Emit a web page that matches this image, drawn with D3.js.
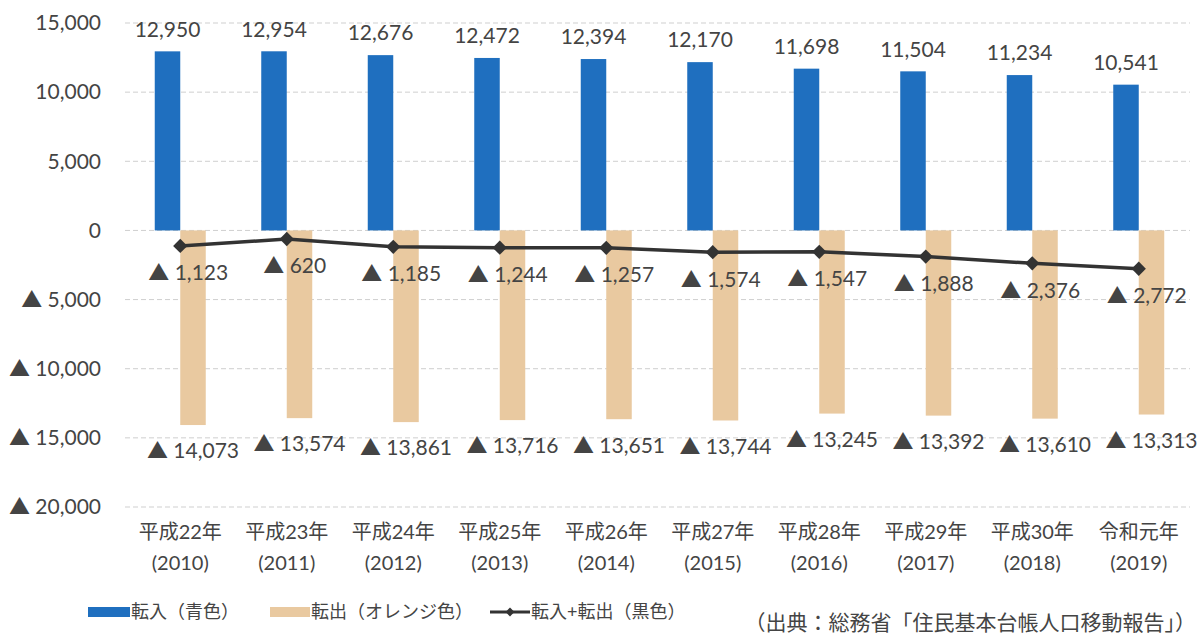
<!DOCTYPE html>
<html>
<head>
<meta charset="utf-8">
<script src="https://cdn.jsdelivr.net/npm/d3@7"></script>
<style>
  body { margin: 0; background: #fff; }
  svg text { font-family: Lato, "Noto Sans CJK JP", sans-serif; fill: #444; }
</style>
</head>
<body>
<div id="chart"></div>
<script>
// data
const eras = ['平成22年','平成23年','平成24年','平成25年','平成26年','平成27年','平成28年','平成29年','平成30年','令和元年']
const years = ['2010','2011','2012','2013','2014','2015','2016','2017','2018','2019']
const tenyu = [12950,12954,12676,12472,12394,12170,11698,11504,11234,10541]
const tenshutsu = [14073,13574,13861,13716,13651,13744,13245,13392,13610,13313]
const net = [-1123,-620,-1185,-1244,-1257,-1574,-1547,-1888,-2376,-2772]
const yTicks = [15000,10000,5000,0,-5000,-10000,-15000,-20000]

const colors = { in: '#1f6fbf', out: '#e9c9a0', line: '#333333' }

const width = 1200, height = 635
const svg = d3.select('#chart').append('svg')
    .attr('width', width)
    .attr('height', height)

// scales
const x = d3.scaleBand().domain(years).range([127, 1192])
const y = d3.scaleLinear().domain([-20000, 15000]).range([507, 23])
const fmt = d3.format(',')
const fmtSigned = v => v < 0 ? '▲ ' + fmt(-v) : fmt(v)
const cx = d => x(d) + x.bandwidth() / 2
const barW = 25.5

// grid
svg.append('g').selectAll('line')
    .data(yTicks)
    .join('line')
    .attr('x1', 125).attr('x2', 1190)
    .attr('y1', d => y(d)).attr('y2', d => y(d))
    .attr('stroke', '#cfcfcf')
    .attr('stroke-width', 1)
    .attr('stroke-dasharray', '5,3')

// y axis labels
svg.append('g').selectAll('text')
    .data(yTicks)
    .join('text')
    .attr('x', 101)
    .attr('y', d => y(d))
    .attr('dy', '0.35em')
    .attr('text-anchor', 'end')
    .style('font-size', '21px')
    .text(fmtSigned)

// bars
svg.append('g').selectAll('rect')
    .data(tenyu)
    .join('rect')
    .attr('x', (d, i) => cx(years[i]) - barW)
    .attr('y', d => y(d))
    .attr('width', barW)
    .attr('height', d => y(0) - y(d))
    .attr('fill', colors.in)

svg.append('g').selectAll('rect')
    .data(tenshutsu)
    .join('rect')
    .attr('x', (d, i) => cx(years[i]))
    .attr('y', y(0))
    .attr('width', barW)
    .attr('height', d => y(-d) - y(0))
    .attr('fill', colors.out)

// net line
const line = d3.line()
    .x((d, i) => cx(years[i]))
    .y(d => y(d))

svg.append('path')
    .datum(net)
    .attr('d', line)
    .attr('fill', 'none')
    .attr('stroke', colors.line)
    .attr('stroke-width', 3.5)

svg.append('g').selectAll('path')
    .data(net)
    .join('path')
    .attr('d', d3.symbol(d3.symbolDiamond2, 130))
    .attr('transform', (d, i) => `translate(${cx(years[i])},${y(d)})`)
    .attr('fill', colors.line)

// value labels
svg.append('g').selectAll('text')
    .data(tenyu)
    .join('text')
    .attr('x', (d, i) => cx(years[i]) - barW / 2)
    .attr('y', d => y(d) - 22)
    .attr('dy', '0.35em')
    .attr('text-anchor', 'middle')
    .style('font-size', '21px')
    .text(fmt)

svg.append('g').selectAll('text')
    .data(tenshutsu)
    .join('text')
    .attr('x', (d, i) => cx(years[i]) + barW / 2)
    .attr('y', d => y(-d) + 26)
    .attr('dy', '0.35em')
    .attr('text-anchor', 'middle')
    .style('font-size', '21px')
    .text(d => fmtSigned(-d))

svg.append('g').selectAll('text')
    .data(net)
    .join('text')
    .attr('x', (d, i) => cx(years[i]) + 8)
    .attr('y', d => y(d) + 27)
    .attr('dy', '0.35em')
    .attr('text-anchor', 'middle')
    .style('font-size', '21px')
    .text(fmtSigned)

// category labels
const cats = svg.append('g').selectAll('g')
    .data(years)
    .join('g')
    .attr('transform', d => `translate(${cx(d)},0)`)

cats.append('text')
    .attr('y', 532)
    .attr('dy', '0.35em')
    .attr('text-anchor', 'middle')
    .style('font-size', '20px')
    .text((d, i) => eras[i])

cats.append('text')
    .attr('y', 563)
    .attr('dy', '0.35em')
    .attr('text-anchor', 'middle')
    .style('font-size', '20px')
    .text(d => `(${d})`)

// legend
const legend = svg.append('g').attr('transform', 'translate(0,612)')

legend.append('rect').attr('x', 88).attr('y', -5).attr('width', 42).attr('height', 10).attr('fill', colors.in)
legend.append('text').attr('x', 131).attr('dy', '0.35em').style('font-size', '18px').text('転入（青色）')

legend.append('rect').attr('x', 270).attr('y', -5).attr('width', 40).attr('height', 10).attr('fill', colors.out)
legend.append('text').attr('x', 311).attr('dy', '0.35em').style('font-size', '18px').text('転出（オレンジ色）')

legend.append('line').attr('x1', 490).attr('x2', 530).attr('y1', 0).attr('y2', 0)
    .attr('stroke', colors.line).attr('stroke-width', 3)
legend.append('path').attr('d', d3.symbol(d3.symbolDiamond2, 50))
    .attr('transform', 'translate(510,0)').attr('fill', colors.line)
legend.append('text').attr('x', 531).attr('dy', '0.35em').style('font-size', '18px').text('転入+転出（黒色）')

svg.append('text')
    .attr('x', 1196)
    .attr('y', 623)
    .attr('dy', '0.35em')
    .attr('text-anchor', 'end')
    .style('font-size', '21px')
    .text('（出典：総務省「住民基本台帳人口移動報告」）')
</script>
</body>
</html>
